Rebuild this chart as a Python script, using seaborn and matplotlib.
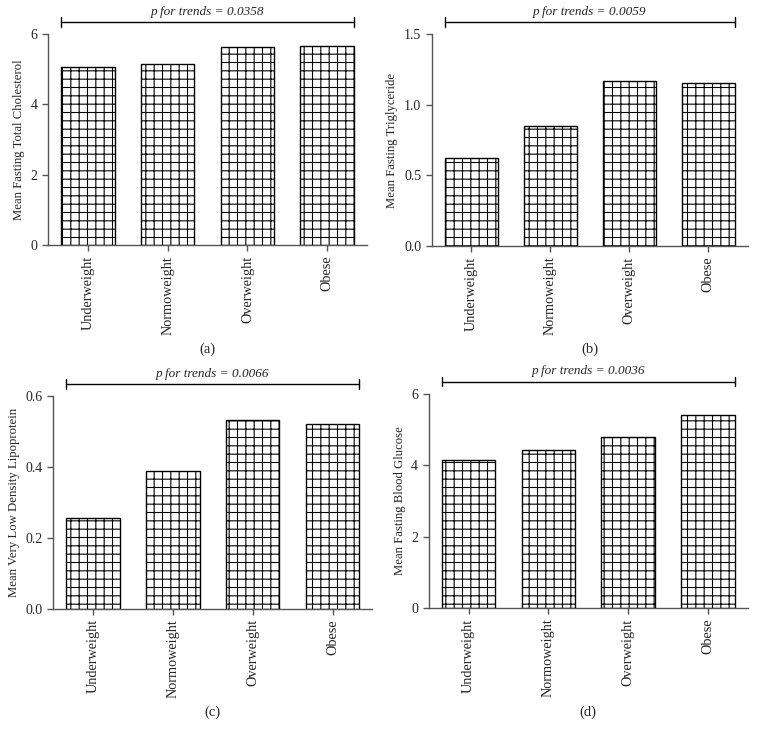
import matplotlib
matplotlib.use("Agg")
import matplotlib.pyplot as plt
import seaborn as sns
import pandas as pd

## Data
groups = ["Underweight", "Normoweight", "Overweight", "Obese"]
cholesterol = [5.05, 5.15, 5.62, 5.65]
triglyceride = [0.625, 0.848, 1.17, 1.15]
vldl = [0.255, 0.388, 0.532, 0.522]
glucose = [4.15, 4.42, 4.80, 5.40]

ylabels = ["Mean Fasting Total Cholesterol", "Mean Fasting Triglyceride",
           "Mean Very Low Density Lipoprotein", "Mean Fasting Blood Glucose"]
p_values = ["0.0358", "0.0059", "0.0066", "0.0036"]
panel_tags = ["(a)", "(b)", "(c)", "(d)"]
yticks = [[0, 2, 4, 6], [0.0, 0.5, 1.0, 1.5], [0.0, 0.2, 0.4, 0.6], [0, 2, 4, 6]]
ytick_labels = [["0", "2", "4", "6"], ["0.0", "0.5", "1.0", "1.5"],
                ["0.0", "0.2", "0.4", "0.6"], ["0", "2", "4", "6"]]

sns.set_style("ticks")
plt.rcParams['font.family'] = ['Liberation Serif', 'DejaVu Serif']
plt.rcParams['hatch.linewidth'] = 0.8

fig = plt.figure(figsize=(7.6, 7.39), dpi=100)

## axes boxes (left, bottom, width, height) in figure fractions
boxes = [
    [0.063, 0.668, 0.420, 0.286],
    [0.568, 0.667, 0.416, 0.287],
    [0.070, 0.176, 0.420, 0.288],
    [0.564, 0.177, 0.420, 0.290],
]
caption_y = [0.527, 0.527, 0.036, 0.036]

spine_col = "#555555"
bar_w = 0.67

for i, vals in enumerate([cholesterol, triglyceride, vldl, glucose]):
    ax = fig.add_axes(boxes[i])
    df = pd.DataFrame({"group": groups, "value": vals})
    sns.barplot(data=df, x="group", y="value", ax=ax, color="white",
                edgecolor="black", linewidth=1.0, width=bar_w, saturation=1)
    for p in ax.patches:
        p.set_hatch("++")
        p.set_facecolor("white")

    ax.set_xlim(-0.5, 3.5)
    ax.set_ylim(yticks[i][0], yticks[i][-1])
    ax.set_yticks(yticks[i])
    ax.set_yticklabels(ytick_labels[i], fontsize=10)
    ax.set_xticks(range(len(groups)))
    ax.set_xticklabels(groups, rotation=90, fontsize=10.3)
    ax.set_xlabel("")
    ax.set_ylabel(ylabels[i], fontsize=9.2)
    sns.despine(ax=ax)
    for s in ["left", "bottom"]:
        ax.spines[s].set_color(spine_col)
        ax.spines[s].set_linewidth(1.0)
    ax.tick_params(color=spine_col, length=4, width=1.0)

    ## p for trend bracket above bars
    trans = ax.get_xaxis_transform()
    x0, x1 = -bar_w / 2, 3 + bar_w / 2
    ax.plot([x0, x1], [1.057, 1.057], color="black", lw=1.0,
            transform=trans, clip_on=False)
    for xe in (x0, x1):
        ax.plot([xe, xe], [1.035, 1.079], color="black", lw=1.0,
                transform=trans, clip_on=False)
    ax.text(1.5, 1.105, f"p for trends = {p_values[i]}", transform=trans,
            ha="center", va="center", fontsize=9.5, style="italic")

    cx = boxes[i][0] + boxes[i][2] / 2
    fig.text(cx, caption_y[i], panel_tags[i], ha="center", va="center", fontsize=10.5)

fig.savefig("out.png", dpi=100)
